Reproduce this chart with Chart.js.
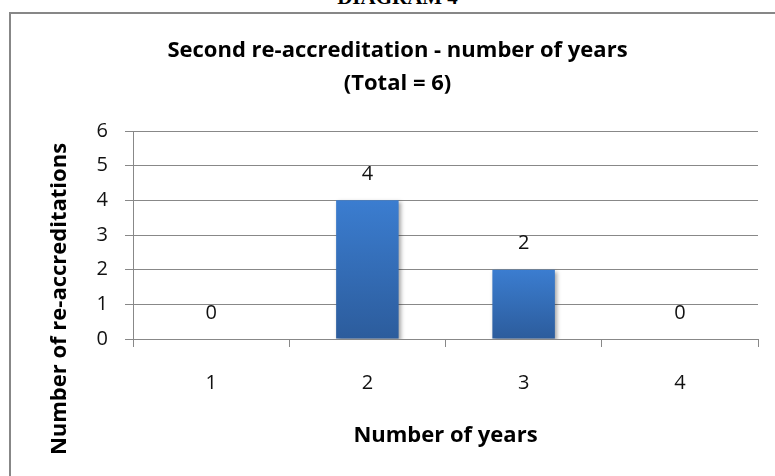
<!DOCTYPE html>
<html>
<head>
<meta charset="utf-8">
<script src="https://cdn.jsdelivr.net/npm/chart.js@4.4.0/dist/chart.umd.min.js"></script>
<style>
    html, body { margin: 0; padding: 0; background: #fff; overflow: hidden; }
    body { width: 775px; height: 476px; position: relative; }
    #heading {
        position: absolute; left: 0; width: 795px; top: -13px;
        text-align: center; font: bold 21px/21px "Liberation Serif", "DejaVu Serif", serif;
        color: #000;
    }
    #frame {
        position: absolute; left: 9px; top: 12px; width: 900px; height: 600px;
        border-left: 2px solid #878787; border-top: 2px solid #878787;
    }
    #chart { position: absolute; left: 0; top: 0; }
</style>
</head>
<body>
<div id="heading">DIAGRAM 4</div>
<div id="frame"></div>
<canvas id="chart" width="775" height="476"></canvas>
<script>
const categories = ['1', '2', '3', '4'];
const reaccreditations = [0, 4, 2, 0];
const yTicks = [0, 1, 2, 3, 4, 5, 6];

const titleLines = ['Second re-accreditation - number of years', '(Total = 6)'];
const xTitle = 'Number of years';
const yTitle = 'Number of re-accreditations';

const FONT = '"Open Sans", "Noto Sans", sans-serif';
const GRID = '#888888';
const TITLE_SIZE = 22;
const TICK_SIZE = 20;

// градиент сверху вниз отдельно для каждого столбца
function barGradient(ctx) {
    const chart = ctx.chart;
    if (!chart.chartArea || ctx.parsed === undefined) return '#3a7bcd';
    const y = chart.scales.y;
    const top = y.getPixelForValue(ctx.parsed.y);
    const bottom = y.getPixelForValue(0);
    if (bottom - top < 1) return '#3a7bcd';
    const g = chart.ctx.createLinearGradient(0, top, 0, bottom);
    g.addColorStop(0, '#3b7dd0');
    g.addColorStop(1, '#2c5c9c');
    return g;
}

// тень под столбцами
const shadowPlugin = {
    id: 'barShadow',
    beforeDatasetsDraw(chart) {
        const c = chart.ctx;
        c.save();
        c.shadowColor = 'rgba(0,0,0,0.35)';
        c.shadowBlur = 4;
        c.shadowOffsetX = 2;
        c.shadowOffsetY = 2;
    },
    afterDatasetsDraw(chart) {
        chart.ctx.restore();
    }
};

// подписи значений над столбцами + заголовок оси Y
const labelsPlugin = {
    id: 'valueLabels',
    afterDraw(chart) {
        const c = chart.ctx;
        const meta = chart.getDatasetMeta(0);
        c.save();
        c.fillStyle = '#111';
        c.font = TICK_SIZE + 'px ' + FONT;
        c.textAlign = 'center';
        c.textBaseline = 'middle';
        meta.data.forEach((bar, i) => {
            c.fillText(String(reaccreditations[i]), bar.x, bar.y - 26);
        });

        c.translate(60, 299);
        c.rotate(-Math.PI / 2);
        c.font = 'bold ' + TITLE_SIZE + 'px ' + FONT;
        c.fillStyle = '#000';
        c.fillText(yTitle, 0, 0);
        c.restore();
    }
};

new Chart(document.getElementById('chart'), {
    type: 'bar',
    data: {
        labels: categories,
        datasets: [{
            data: reaccreditations,
            backgroundColor: barGradient,
            borderWidth: 0,
            barPercentage: 0.4,
            categoryPercentage: 1.0
        }]
    },
    options: {
        responsive: false,
        animation: false,
        devicePixelRatio: 1,
        layout: { padding: { left: 37, right: 17, top: 0, bottom: 0 } },
        plugins: {
            legend: { display: false },
            tooltip: { enabled: false },
            title: {
                display: true,
                text: titleLines,
                color: '#000',
                font: { family: FONT, size: TITLE_SIZE, weight: 'bold', lineHeight: 33 / TITLE_SIZE },
                padding: { top: 34, bottom: 31 }
            }
        },
        scales: {
            x: {
                afterFit(scale) { scale.height = 137; },
                grid: {
                    display: true, drawOnChartArea: false, drawTicks: true,
                    tickLength: 8, offset: true, color: GRID
                },
                border: { color: GRID },
                ticks: { color: '#111', font: { family: FONT, size: TICK_SIZE }, padding: 24 },
                title: {
                    display: true, text: xTitle, color: '#000',
                    font: { family: FONT, size: TITLE_SIZE, weight: 'bold' },
                    padding: { top: 0, bottom: 27 }
                }
            },
            y: {
                min: 0,
                max: 6,
                afterFit(scale) { scale.width = 96; },
                afterBuildTicks(scale) { scale.ticks = yTicks.map(v => ({ value: v })); },
                grid: { color: GRID, tickLength: 8 },
                border: { color: GRID },
                ticks: { color: '#111', font: { family: FONT, size: TICK_SIZE }, padding: 17 }
            }
        }
    },
    plugins: [shadowPlugin, labelsPlugin]
});
</script>
</body>
</html>
